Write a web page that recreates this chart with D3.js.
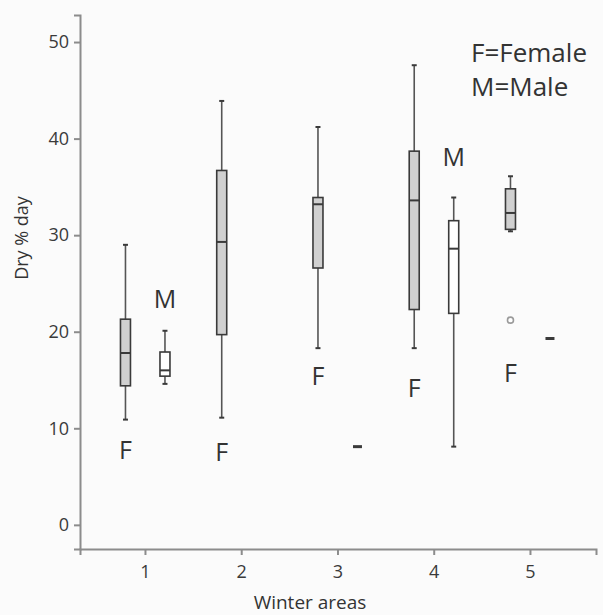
<!DOCTYPE html>
<html>
<head>
<meta charset="utf-8">
<script src="https://cdn.jsdelivr.net/npm/d3@7"></script>
<style>
  body { margin: 0; background: #fbfbfb; }
  svg { font-family: "Open Sans", sans-serif; }
</style>
</head>
<body>
<div id="main"><svg width="603" height="615"></svg></div>
<script>
// Categories
var areas = [1, 2, 3, 4, 5];
var maleAreas = [1, 3, 4, 5];

// Female boxes (per area)
var femaleLow = [10.9, 11.1, 18.3, 18.3, 30.4];
var femaleQ1 = [14.4, 19.7, 26.6, 22.3, 30.6];
var femaleMedian = [17.8, 29.3, 33.2, 33.6, 32.3];
var femaleQ3 = [21.3, 36.7, 33.9, 38.7, 34.8];
var femaleHigh = [29.0, 43.9, 41.2, 47.6, 36.1];

// Male boxes (per male area)
var maleLow = [14.6, 8.1, 8.1, 19.3];
var maleQ1 = [15.4, 8.1, 21.9, 19.3];
var maleMedian = [16.0, 8.1, 28.6, 19.3];
var maleQ3 = [17.9, 8.1, 31.5, 19.3];
var maleHigh = [20.1, 8.1, 33.9, 19.3];

// Outliers
var outlierAreas = [5];
var outlierValues = [21.2];

// Annotation letters (value where the letter sits)
var femaleLabelAt = [7.8, 7.5, 15.4, 14.2, 15.7];
var maleLabelAreas = [1, 4];
var maleLabelAt = [23.4, 38.1];

var yTicks = [0, 10, 20, 30, 40, 50];

var svg = d3.select("#main").select("svg");

var xScale = d3.scaleLinear().domain([0.325, 5.686]).range([80, 596]);
var yScale = d3.scaleLinear().domain([-2.5, 52.8]).range([549, 15]);

var offset = { F: -19.5, M: 20 };
var boxW = 10;
var dark = "#3a3a3a";

// Axes
var xAxis = d3.axisBottom(xScale).tickValues(areas).tickFormat(d3.format("d"))
    .tickSizeOuter(0).tickSize(6).tickPadding(10);
var gx = svg.append("g")
    .attr("transform", "translate(0," + yScale.range()[0] + ")")
    .call(xAxis);

var yAxis = d3.axisLeft(yScale).tickValues(yTicks).tickSizeOuter(0).tickSize(6).tickPadding(5);
var gy = svg.append("g")
    .attr("transform", "translate(" + xScale.range()[0] + ",0)")
    .call(yAxis);

[gx, gy].forEach(function(g) {
    g.select(".domain").attr("stroke", "#8c8c8c").attr("stroke-width", 2);
    g.selectAll(".tick line").attr("stroke", "#8c8c8c").attr("stroke-width", 2);
    g.selectAll(".tick text").attr("fill", "#3a3a3a").style("font-size", "18px")
        .style("font-family", "Open Sans, sans-serif");
});

// Axis titles
svg.append("text")
    .attr("x", 310).attr("y", 609)
    .attr("text-anchor", "middle")
    .attr("fill", "#333")
    .style("font-size", "19px")
    .text("Winter areas");

svg.append("text")
    .attr("transform", "translate(28,238) rotate(-90)")
    .attr("text-anchor", "middle")
    .attr("fill", "#333")
    .style("font-size", "18px")
    .text("Dry % day");

// Build box records
var boxes = [];
areas.forEach(function(a, i) {
    boxes.push({ area: a, sex: "F", low: femaleLow[i], q1: femaleQ1[i], med: femaleMedian[i], q3: femaleQ3[i], high: femaleHigh[i] });
});
maleAreas.forEach(function(a, i) {
    boxes.push({ area: a, sex: "M", low: maleLow[i], q1: maleQ1[i], med: maleMedian[i], q3: maleQ3[i], high: maleHigh[i] });
});

function cx(d) { return xScale(d.area) + offset[d.sex]; }

var boxG = svg.append("g").attr("class", "boxes");

boxes.forEach(function(d) {
    var x = cx(d);
    if (d.high - d.low > 0) {
        // whisker
        boxG.append("line")
            .attr("x1", x).attr("x2", x)
            .attr("y1", yScale(d.high)).attr("y2", yScale(d.low))
            .attr("stroke", "#555").attr("stroke-width", 1.6);
        [d.low, d.high].forEach(function(v) {
            boxG.append("line")
                .attr("x1", x - 2.5).attr("x2", x + 2.5)
                .attr("y1", yScale(v)).attr("y2", yScale(v))
                .attr("stroke", dark).attr("stroke-width", 2);
        });
        // box
        boxG.append("rect")
            .attr("x", x - boxW / 2)
            .attr("y", yScale(d.q3))
            .attr("width", boxW)
            .attr("height", yScale(d.q1) - yScale(d.q3))
            .attr("fill", d.sex === "F" ? "#d0d0d0" : "#ffffff")
            .attr("stroke", dark).attr("stroke-width", 1.6);
        boxG.append("line")
            .attr("x1", x - boxW / 2).attr("x2", x + boxW / 2)
            .attr("y1", yScale(d.med)).attr("y2", yScale(d.med))
            .attr("stroke", dark).attr("stroke-width", 2);
    } else {
        // single observation
        boxG.append("line")
            .attr("x1", x - 4.5).attr("x2", x + 4.5)
            .attr("y1", yScale(d.med)).attr("y2", yScale(d.med))
            .attr("stroke", dark).attr("stroke-width", 3);
    }
});

// Outliers
outlierAreas.forEach(function(a, i) {
    boxG.append("circle")
        .attr("cx", xScale(a) + offset.F)
        .attr("cy", yScale(outlierValues[i]))
        .attr("r", 3)
        .attr("fill", "#fff")
        .attr("stroke", "#9a9a9a")
        .attr("stroke-width", 1.6);
});

// F / M letters
var letterG = svg.append("g").style("font-size", "25px").attr("fill", "#333");
areas.forEach(function(a, i) {
    letterG.append("text")
        .attr("x", xScale(a) + offset.F)
        .attr("y", yScale(femaleLabelAt[i]))
        .attr("dy", "0.36em")
        .attr("text-anchor", "middle")
        .text("F");
});
maleLabelAreas.forEach(function(a, i) {
    letterG.append("text")
        .attr("x", xScale(a) + offset.M)
        .attr("y", yScale(maleLabelAt[i]))
        .attr("dy", "0.36em")
        .attr("text-anchor", "middle")
        .text("M");
});

// Legend
var legend = svg.append("g").style("font-size", "26px").attr("fill", "#333");
legend.append("text").attr("x", 471).attr("y", 62).text("F=Female");
legend.append("text").attr("x", 471).attr("y", 96).text("M=Male");
</script>
</body>
</html>
